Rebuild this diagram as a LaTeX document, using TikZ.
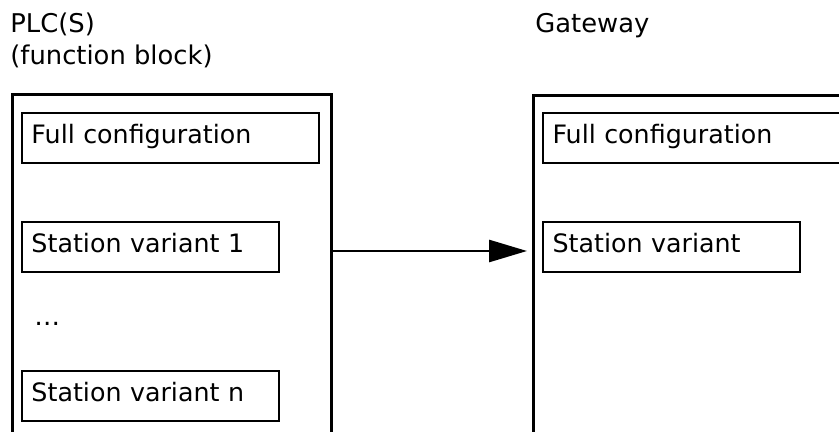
\documentclass[tikz,border=0pt]{standalone}
\usepackage{fontspec}
\setsansfont{DejaVu Sans}
\usetikzlibrary{arrows.meta, positioning, calc}

\begin{document}
\begin{tikzpicture}[x=0.5pt, y=-0.5pt,
    frame/.style={draw, line width=1.5pt, minimum height=200pt, inner sep=0pt, anchor=north west},
    entry/.style={draw, line width=1pt, text width=119pt, align=left, inner xsep=4.75pt, inner ysep=0pt,
        minimum height=25pt, text height=0.76em, text depth=0.24em, font=\sffamily\fontsize{12.67}{15}\selectfont},
    title/.style={inner sep=0pt, font=\sffamily\fontsize{12.9}{15}\selectfont},
    arrow/.style={-{Triangle[length=19pt, width=11pt]}, line width=1.4pt, shorten >=2.5pt}
]
    \useasboundingbox (0,0) rectangle (839,432);
    \clip (0,0) rectangle (839,432);

    % headings
    \node[title, anchor=base west] (plcT) at (10,33) {PLC(S)};
    \node[title, anchor=base west] (fbT) at ([yshift=-15.75pt]plcT.base west) {(function block)};
    \node[title, anchor=base west] (gwT) at (535,33) {Gateway};

    % PLC side
    \node[frame, minimum width=159.5pt] (plc) at (11,93) {};
    \node[entry, text width=139pt, below right=9.5pt and 5pt of plc.north west] (fcfgL) {Full configuration};
    \node[entry, below=28.5pt of fcfgL.south west, anchor=north west] (sv1) {Station variant 1};
    \node[entry, below=48.5pt of sv1.south west, anchor=north west] (svn) {Station variant n};
    \node[title, anchor=west] (dots) at ($(sv1.south west)!0.5!(svn.north west)+(13,2)$) {…};

    % gateway side
    \node[frame, minimum width=200pt] (gw) at (532,94) {};
    \node[entry, text width=150.5pt, below right=9pt and 5pt of gw.north west] (fcfgR) {Full configuration};
    \node[entry, below=28.5pt of fcfgR.south west, anchor=north west] (svR) {Station variant};

    \coordinate (link) at ([yshift=-2pt]sv1.east);
    \draw[arrow] (link -| plc.east) -- (link -| gw.west);
\end{tikzpicture}
\end{document}
